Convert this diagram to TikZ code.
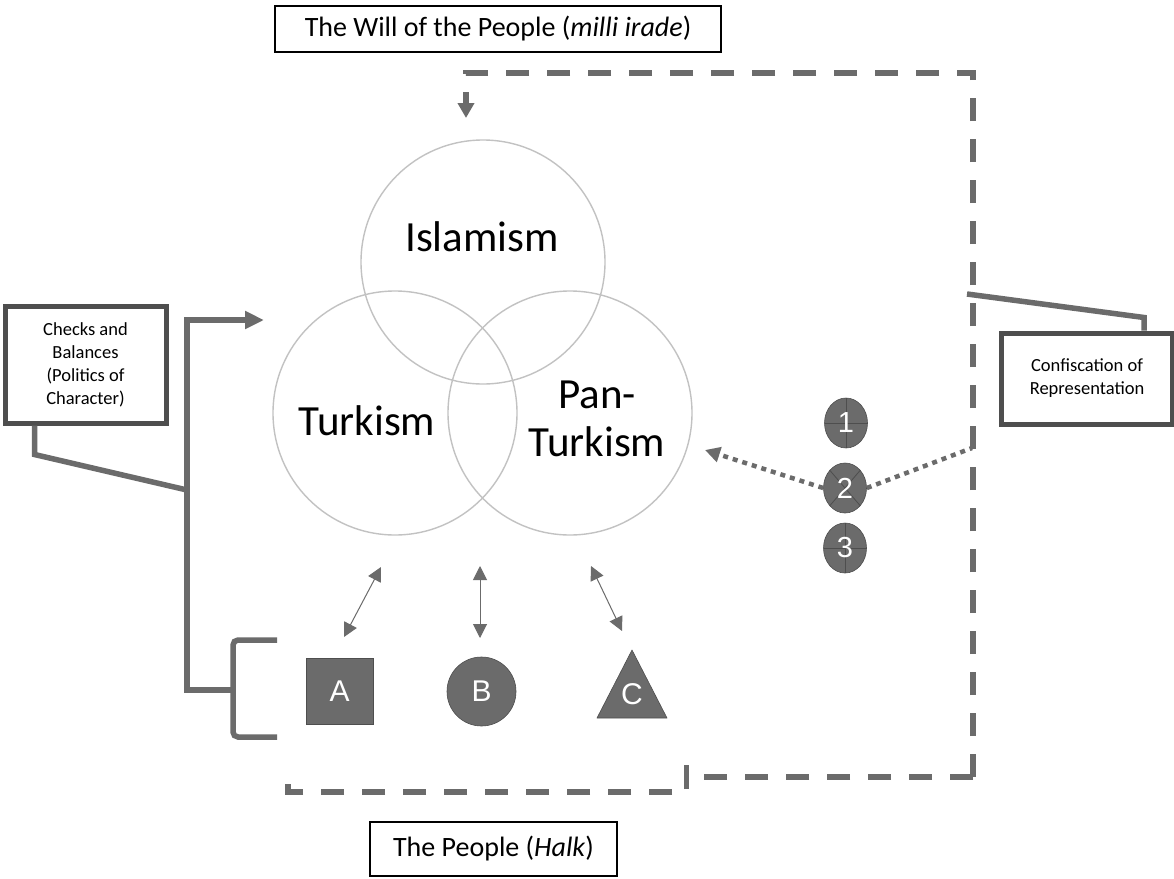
\documentclass[tikz,border=0pt]{standalone}
\usepackage{fontspec}
\setmainfont{Carlito}
\newfontfamily\arialf{Liberation Sans}
\usetikzlibrary{arrows.meta,shapes.geometric}
\definecolor{dg}{HTML}{6B6B6B}
\definecolor{lg}{HTML}{C2C2C2}
\definecolor{bd}{HTML}{4E4E4E}
\begin{document}
\begin{tikzpicture}[x=1pt,y=-1pt,
  venn/.style={circle, draw=lg, line width=1.4pt, minimum size=244pt, inner sep=0pt},
  vlabel/.style={font=\fontsize{43}{48}\selectfont, align=center, inner sep=0pt},
  titlebox/.style={draw=black, line width=1.6pt, font=\fontsize{28}{32}\selectfont, inner sep=0pt},
  sidebox/.style={draw=bd, line width=5pt, fill=white, font=\fontsize{18.5}{23}\selectfont, align=center, inner sep=0pt},
  shp/.style={fill=dg, draw=bd, line width=0.6pt, text=white, font=\arialf\fontsize{30}{32}\selectfont, inner sep=0pt},
  numc/.style={ellipse, fill=dg, draw=bd, line width=0.6pt, text=white, font=\arialf\fontsize{29}{30}\selectfont, inner sep=0pt, minimum width=43pt, minimum height=50pt},
  dashl/.style={draw=dg, line width=5.5pt, dash pattern=on 23pt off 18pt},
  solidl/.style={draw=dg, line width=5.5pt},
  dotl/.style={draw=dg, line width=4.5pt, dash pattern=on 5pt off 5pt},
  dbl/.style={draw=dg, line width=1pt, {Triangle[length=14pt,width=14pt]}-{Triangle[length=14pt,width=14pt]}},
]
\useasboundingbox (0,0) rectangle (1174,878);
\fill[white] (0,0) rectangle (1174,878);

% title boxes
\node[titlebox, minimum width=446pt, minimum height=46pt] (will) at (498,29) {The Will of the People (\textit{milli irade})};
\node[titlebox, minimum width=247pt, minimum height=54pt] (people) at (493.5,849) {The People (\textit{Halk})};

% Venn
\node[venn] (isl) at (483,262) {};
\node[venn] (tur) at (395,413) {};
\node[venn] (pan) at (570,413) {};
\node[vlabel] (isl-l) at (482,237) {Islamism};
\node[vlabel] (tur-l) at (367,421) {Turkism};
\node[vlabel] (pan-l) at (597,419) {Pan-\\Turkism};

% shapes
\node[shp, rectangle, minimum width=67pt, minimum height=66pt] (A) at (339.5,691) {A};
\node[shp, circle, minimum size=69pt] (B) at (481.5,691.5) {B};
\coordinate (Ct) at (632,650);
\coordinate (Cl) at (597,718);
\coordinate (Cr) at (667,718);
\fill[dg] (Ct) -- (Cl) -- (Cr) -- cycle;
\draw[bd, line width=0.6pt, line join=round] (Ct) -- (Cl) -- (Cr) -- cycle;
\node[text=white, font=\arialf\fontsize{30}{32}\selectfont, inner sep=0pt] (C) at (632,694) {C};

% double arrows
\coordinate (a1s) at (381,567); \coordinate (a1e) at (344,637);
\coordinate (a2s) at (480,566); \coordinate (a2e) at (480,638);
\coordinate (a3s) at (591,566); \coordinate (a3e) at (622,631);
\draw[dbl] (a1s) -- (a1e);
\draw[dbl] (a2s) -- (a2e);
\draw[dbl] (a3s) -- (a3e);

% side boxes
\node[sidebox, minimum width=161pt, minimum height=117pt] (cb) at (85.5,364.5) {Checks and\\Balances\\(Politics of\\Character)};
\node[sidebox, minimum width=171pt, minimum height=91pt] (conf) at (1087,378.5) {Confiscation of\\Representation};

% left bracket
\coordinate (vtarget) at (264,320);
\coordinate (brk) at (233,690);
\draw[solidl, line join=miter] ([xshift=32pt]cb.south west) -- ++(0,29) -- (187,490);
\draw[solidl, -{Triangle[length=19pt,width=17pt]}] (brk) -- (187,690) -- (187,320) -- (vtarget);
\draw[solidl, rounded corners=5pt] (277,640) -- (233,640) -- (233,737) -- (277,737);

% confiscation connector
\draw[solidl] ([xshift=-31pt]conf.north east) -- ++(0,-13) -- (967,294);

% dashed paths
\coordinate (topt) at (466,118);
\coordinate (botr) at (684,777);
\draw[dashl, -{Triangle[length=15pt,width=16pt]}] (973,777) -- (973,73) -- (466,73) -- (topt);
\draw[dashl, -{Bar[width=24pt,line width=4.5pt]}] (973,777) -- (botr);
\draw[dashl] (672,792) -- (288,792) -- (288,778);

% numbered circles
\node[numc, path picture={\draw[bd,line width=0.8pt] (path picture bounding box.north) -- (path picture bounding box.south) (path picture bounding box.west) -- (path picture bounding box.east);}] (n1) at (846,423) {1};
\node[numc, path picture={\draw[bd,line width=0.8pt] (path picture bounding box.north west) -- (path picture bounding box.south east) (path picture bounding box.south west) -- (path picture bounding box.north east);}] (n2) at (845,488) {2};
\node[numc, path picture={\draw[bd,line width=0.8pt] (path picture bounding box.north) -- (path picture bounding box.south) (path picture bounding box.west) -- (path picture bounding box.east);}] (n3) at (845,548) {3};

% dotted arrows
\coordinate (pant) at (705,450);
\coordinate (dashpt) at (972,448);
\draw[dotl, -{Triangle[length=15pt,width=15pt]}] (n2.west) -- (pant);
\draw[dotl] (n2.east) -- (dashpt);
\end{tikzpicture}
\end{document}
